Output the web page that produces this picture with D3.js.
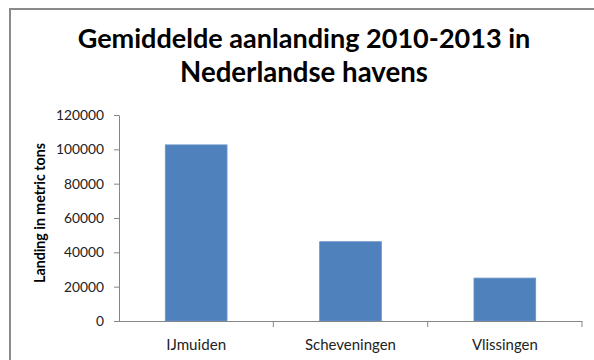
<!DOCTYPE html>
<html>
<head>
<meta charset="utf-8">
<script src="https://cdn.jsdelivr.net/npm/d3@7"></script>
<style>
  body { margin: 0; background: #fff; }
  svg { display: block; }
</style>
</head>
<body>
<svg width="594" height="360"></svg>
<script>
const ports = ["IJmuiden", "Scheveningen", "Vlissingen"];
const landings = [102600, 46200, 25000];
const yTicks = [0, 20000, 40000, 60000, 80000, 100000, 120000];
const titleLines = ["Gemiddelde aanlanding 2010-2013 in", "Nederlandse havens"];
const yLabel = "Landing in metric tons";

const width = 594,
  height = 360;
const plot = { left: 119, right: 582, top: 115, bottom: 321 };
const font = "Lato, 'Open Sans', sans-serif";

const svg = d3.select("svg").attr("font-family", font);

// scale text so it covers the width measured in the picture
function fitWidth(sel, w) {
  sel.each(function () {
    const len = this.getComputedTextLength();
    const fs = parseFloat(d3.select(this).attr("font-size"));
    d3.select(this).attr("font-size", (fs * w) / len);
  });
}

// chart frame (only top and left edges are visible)
svg
  .append("path")
  .attr("d", `M10,${height} L10,9 L${width},9`)
  .attr("fill", "none")
  .attr("stroke", "#8a8a8a")
  .attr("stroke-width", 2);

// title
const titleWidths = [453, 248];
const titleBase = [48, 82];
titleLines.forEach((t, i) => {
  svg
    .append("text")
    .attr("x", 304)
    .attr("y", titleBase[i])
    .attr("text-anchor", "middle")
    .attr("font-size", 24)
    .attr("font-weight", "bold")
    .attr("fill", "#000")
    .text(t)
    .call(fitWidth, titleWidths[i]);
});

const y = d3.scaleLinear().domain([0, 120000]).range([plot.bottom, plot.top]);

const x = d3
  .scaleBand()
  .domain(ports)
  .range([plot.left, plot.right])
  .paddingInner(0.6)
  .paddingOuter(0.3);

// y axis
const yAxis = svg
  .append("g")
  .attr("transform", `translate(${plot.left},0)`)
  .call(
    d3
      .axisLeft(y)
      .tickValues(yTicks)
      .tickFormat(d3.format("d"))
      .tickSize(5)
      .tickSizeOuter(0)
      .tickPadding(10)
  );
yAxis.select(".domain").attr("stroke", "#868686");
yAxis.selectAll(".tick line").attr("stroke", "#868686");
yAxis
  .selectAll(".tick text")
  .attr("font-family", font)
  .attr("font-size", 12)
  .attr("fill", "#222")
  .each(function (d) {
    // roughly 8px per digit in the picture
    fitWidth(d3.select(this), 8 * String(d).length);
  });

// bars
svg
  .append("g")
  .selectAll("rect")
  .data(ports)
  .join("rect")
  .attr("x", (d) => x(d))
  .attr("y", (d, i) => y(landings[i]))
  .attr("width", x.bandwidth())
  .attr("height", (d, i) => y(0) - y(landings[i]))
  .attr("fill", "#4f81bd")
  .attr("stroke", "#6b95c8")
  .attr("stroke-width", 0.8);

// x axis with ticks between categories
const gap = (x.step() - x.bandwidth()) / 2;
const bounds = ports.map((d) => x(d) - gap).concat([plot.right]);
svg
  .append("line")
  .attr("x1", plot.left)
  .attr("x2", plot.right)
  .attr("y1", y(0) + 0.5)
  .attr("y2", y(0) + 0.5)
  .attr("stroke", "#868686");
svg
  .append("g")
  .selectAll("line")
  .data(bounds.slice(1))
  .join("line")
  .attr("x1", (d) => d)
  .attr("x2", (d) => d)
  .attr("y1", y(0))
  .attr("y2", y(0) + 6)
  .attr("stroke", "#868686");

const xLabelWidths = [60, 91, 66];
svg
  .append("g")
  .selectAll("text")
  .data(ports)
  .join("text")
  .attr("x", (d) => x(d) + x.bandwidth() / 2)
  .attr("y", 350)
  .attr("text-anchor", "middle")
  .attr("font-size", 13)
  .attr("fill", "#222")
  .text((d) => d)
  .each(function (d, i) {
    fitWidth(d3.select(this), xLabelWidths[i]);
  });

// y label
svg
  .append("text")
  .attr("transform", `translate(45,213) rotate(-90)`)
  .attr("text-anchor", "middle")
  .attr("font-size", 12)
  .attr("font-weight", "bold")
  .attr("fill", "#000")
  .text(yLabel)
  .call(fitWidth, 140);
</script>
</body>
</html>
